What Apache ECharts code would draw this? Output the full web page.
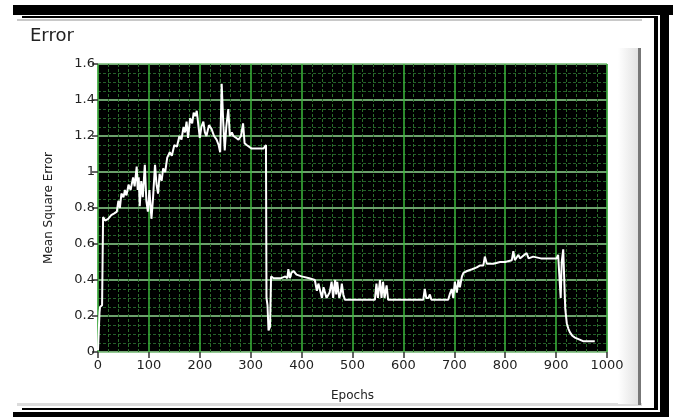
<!DOCTYPE html>
<html>
<head>
<meta charset="utf-8">
<script src="https://cdn.jsdelivr.net/npm/echarts@6/dist/echarts.min.js"></script>
<style>
  html, body { margin: 0; padding: 0; background: #fff; }
  #chart { width: 673px; height: 417px; }
</style>
</head>
<body>
<div id="chart"></div>
<script>
// epochs and mean square error
const epochs = [0, 1, 2, 3, 4, 8, 9, 10, 14, 20, 26, 32, 37, 40, 43, 46, 50, 53, 56, 60, 64, 69, 72, 76, 78, 80, 82, 85, 88, 92, 95, 98, 101, 105, 108, 112, 115, 118, 121, 125, 128, 132, 136, 141, 145, 150, 155, 160, 164, 168, 171, 174, 177, 181, 185, 188, 191, 194, 197, 200, 203, 207, 210, 213, 218, 223, 228, 233, 237, 240, 243, 246, 249, 252, 256, 259, 263, 266, 271, 276, 281, 285, 288, 292, 295, 302, 315, 325, 330, 331, 333, 335, 338, 340, 345, 360, 368, 372, 374, 377, 380, 384, 390, 400, 415, 426, 430, 433, 436, 440, 443, 446, 449, 452, 455, 459, 462, 464, 466, 468, 470, 472, 474, 477, 479, 482, 485, 544, 547, 550, 554, 557, 560, 563, 567, 570, 639, 642, 645, 649, 652, 655, 688, 691, 695, 698, 701, 705, 708, 711, 715, 718, 725, 735, 744, 750, 757, 760, 764, 777, 790, 800, 813, 816, 819, 826, 829, 832, 842, 846, 849, 855, 870, 890, 901, 904, 906, 909, 911, 914, 916, 918, 921, 924, 927, 932, 937, 945, 953, 965, 976]
const mse = [0.01, 0.08, 0.15, 0.22, 0.25, 0.26, 0.5, 0.75, 0.73, 0.74, 0.76, 0.77, 0.78, 0.84, 0.8, 0.88, 0.86, 0.9, 0.87, 0.93, 0.9, 0.97, 0.92, 1.03, 0.9, 0.97, 0.81, 0.95, 0.86, 1.04, 0.84, 0.78, 0.9, 0.74, 0.85, 1.04, 0.93, 0.88, 0.99, 0.95, 1.02, 1.0, 1.08, 1.11, 1.09, 1.15, 1.14, 1.2, 1.18, 1.25, 1.22, 1.28, 1.19, 1.3, 1.27, 1.33, 1.31, 1.34, 1.33, 1.19, 1.25, 1.28, 1.22, 1.2, 1.26, 1.24, 1.2, 1.18, 1.15, 1.11, 1.49, 1.28, 1.12, 1.25, 1.35, 1.2, 1.22, 1.2, 1.19, 1.18, 1.2, 1.27, 1.16, 1.15, 1.14, 1.13, 1.13, 1.13, 1.15, 0.3, 0.26, 0.12, 0.14, 0.42, 0.41, 0.41, 0.42, 0.41, 0.46, 0.41, 0.44, 0.45, 0.43, 0.42, 0.41, 0.4, 0.34, 0.38, 0.37, 0.3, 0.36, 0.35, 0.3, 0.29, 0.33, 0.39, 0.3, 0.36, 0.4, 0.32, 0.39, 0.38, 0.3, 0.33, 0.38, 0.32, 0.29, 0.29, 0.38, 0.3, 0.4, 0.3, 0.39, 0.3, 0.37, 0.29, 0.29, 0.35, 0.3, 0.3, 0.32, 0.29, 0.29, 0.32, 0.35, 0.3, 0.39, 0.33, 0.4, 0.36, 0.42, 0.44, 0.45, 0.46, 0.47, 0.48, 0.48, 0.53, 0.49, 0.49, 0.5, 0.5, 0.51, 0.56, 0.51, 0.54, 0.52, 0.52, 0.55, 0.52, 0.52, 0.53, 0.52, 0.52, 0.52, 0.54, 0.53, 0.3, 0.5, 0.57, 0.4, 0.24, 0.16, 0.13, 0.11, 0.09, 0.08, 0.07, 0.06, 0.06, 0.06]

const chart = echarts.init(document.getElementById("chart"))

const labelFont = { color: "#222", fontSize: 13, fontFamily: "DejaVu Sans" }

const option = {
  backgroundColor: "#fff",
  animation: false,
  title: {
    text: "Error",
    left: 25,
    top: 22,
    textStyle: { color: "#222", fontSize: 18, fontWeight: "normal", fontFamily: "DejaVu Sans" },
  },
  graphic: [
    // panel edges
    { type: "rect", shape: { x: 17, y: 19, width: 625, height: 2 }, style: { fill: "#c8c8c8" } },
    { type: "rect", shape: { x: 17, y: 403, width: 625, height: 3 }, style: { fill: "#dcdcdc" } },
    {
      type: "rect",
      shape: { x: 618, y: 48, width: 20, height: 356 },
      style: {
        fill: new echarts.graphic.LinearGradient(0, 0, 1, 0, [
          { offset: 0, color: "#ffffff" },
          { offset: 1, color: "#e2e2e2" },
        ]),
      },
    },
    { type: "rect", shape: { x: 638, y: 48, width: 3, height: 357 }, style: { fill: "#777" } },
    // outer frame
    { type: "rect", shape: { x: 13, y: 5, width: 660, height: 10 }, style: { fill: "#000" } },
    { type: "rect", shape: { x: 22, y: 16, width: 636, height: 2 }, style: { fill: "#000" } },
    { type: "rect", shape: { x: 660, y: 5, width: 9, height: 412 }, style: { fill: "#000" } },
    { type: "rect", shape: { x: 654, y: 16, width: 4, height: 394 }, style: { fill: "#000" } },
    { type: "rect", shape: { x: 13, y: 412, width: 656, height: 5 }, style: { fill: "#000" } },
    { type: "rect", shape: { x: 22, y: 408, width: 636, height: 2 }, style: { fill: "#000" } },
  ],
  grid: {
    left: 98,
    right: 66,
    top: 64,
    bottom: 65,
    show: true,
    backgroundColor: "#000",
    borderColor: "#444",
    borderWidth: 1,
  },
  xAxis: {
    type: "value",
    min: 0,
    max: 1000,
    interval: 100,
    offset: 4,
    name: "Epochs",
    nameLocation: "middle",
    nameGap: 34,
    nameTextStyle: { color: "#222", fontSize: 12, fontFamily: "DejaVu Sans" },
    axisLine: { show: false },
    axisTick: { show: true, length: 6, lineStyle: { color: "#333", width: 1.5 } },
    axisLabel: Object.assign({ margin: 3, formatter: (v) => String(v) }, labelFont),
    splitLine: { show: true, lineStyle: { color: "#3cb83c", width: 1.5 } },
    minorTick: { show: false, splitNumber: 5 },
    minorSplitLine: { show: true, lineStyle: { color: "#2a6e2a", width: 1, type: [3, 2] } },
  },
  yAxis: {
    type: "value",
    min: 0,
    max: 1.6,
    interval: 0.2,
    name: "Mean Square Error",
    nameLocation: "middle",
    nameGap: 43,
    nameTextStyle: { color: "#222", fontSize: 12, fontFamily: "DejaVu Sans" },
    axisLine: { show: false },
    axisTick: { show: true, length: 6, lineStyle: { color: "#333", width: 1.5 } },
    axisLabel: Object.assign({ margin: 3 }, labelFont),
    splitLine: { show: true, lineStyle: { color: "#8fd68f", width: 1.5 } },
    minorTick: { show: false, splitNumber: 4 },
    minorSplitLine: { show: true, lineStyle: { color: "#25602a", width: 1, type: [3, 2] } },
  },
  series: [
    {
      type: "line",
      data: epochs.map((e, i) => [e, mse[i]]),
      showSymbol: false,
      lineStyle: { color: "#fff", width: 2 },
    },
  ],
}

chart.setOption(option)
</script>
</body>
</html>
